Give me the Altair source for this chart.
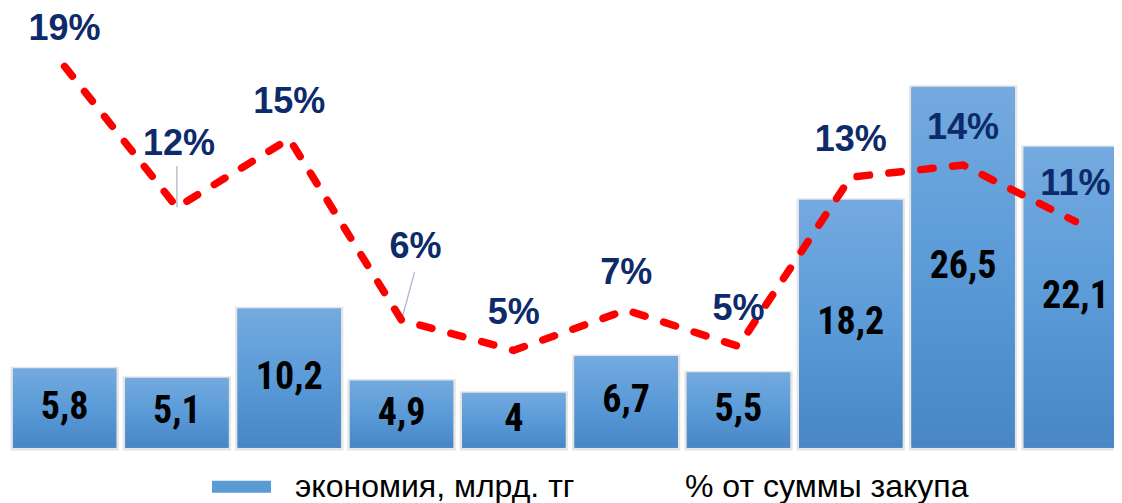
import altair as alt
import pandas as pd

categories = [str(i) for i in range(1, 11)]
savings = [5.8, 5.1, 10.2, 4.9, 4.0, 6.7, 5.5, 18.2, 26.5, 22.1]
percent = [18.9, 11.9, 15.3, 6.3, 4.8, 6.8, 5.0, 13.4, 14.0, 11.2]
series_labels = ["экономия, млрд. тг", "% от суммы закупа"]

df = pd.DataFrame({"cat": categories, "savings": savings, "percent": percent})
df["mid"] = df["savings"] / 2
df["savings_label"] = df["savings"].map(lambda v: f"{v:g}".replace(".", ","))
df["pct_label"] = df["percent"].map(lambda v: f"{int(round(v))}%")
df["series_bar"] = series_labels[0]

x_enc = alt.X("cat:N", sort=categories, axis=None,
              scale=alt.Scale(paddingInner=0.08, paddingOuter=0.044, range=[0, 1124]))
bar_scale = alt.Scale(domain=[0, 32.3], nice=False, zero=True, range=[439, 0])
pct_scale = alt.Scale(domain=[0, 21.8], nice=False, zero=True, range=[439, 0])

gradient = alt.LinearGradient(
    gradient="linear",
    stops=[alt.GradientStop(color="#74AADF", offset=0),
           alt.GradientStop(color="#5B9BD8", offset=0.5),
           alt.GradientStop(color="#4886C6", offset=1)],
    x1=0, x2=0, y1=0, y2=1,
)

legend = alt.Legend(
    title=None, orient="none", direction="horizontal",
    legendX=204, legendY=449, padding=0,
    symbolType="M-1,-0.2H1V0.2H-1Z", symbolSize=3481, symbolStrokeWidth=0,
    labelFont="Liberation Sans", labelFontSize=32, labelColor="#000000",
    labelOffset=24, columnPadding=27, labelLimit=500,
)

base = alt.Chart(df)

bars_legend = base.mark_bar(stroke="#000000", strokeOpacity=0.10, strokeWidth=5, yOffset=1).encode(
    x=x_enc,
    y=alt.Y("savings:Q", scale=bar_scale, axis=None),
    color=alt.Color("series_bar:N",
                    scale=alt.Scale(domain=series_labels, range=["#5B9BD5", "transparent"]),
                    legend=legend),
)

bars = base.mark_bar(fill=gradient).encode(
    x=x_enc,
    y=alt.Y("savings:Q", scale=bar_scale, axis=None),
)

bar_text = base.mark_text(
    font="'Liberation Sans Narrow', 'Arial Narrow', 'Noto Sans Condensed', 'Roboto Condensed', 'DejaVu Sans Condensed', sans-serif",
    fontWeight="bold", fontSize=38,
    color="#000000", baseline="middle", align="center",
).encode(
    x=x_enc,
    y=alt.Y("mid:Q", scale=bar_scale, axis=None),
    text="savings_label:N",
)

line = base.mark_line(
    stroke="#FF0000", strokeWidth=7.5, strokeDash=[12.5, 19.5], strokeCap="round",
).encode(
    x=x_enc,
    y=alt.Y("percent:Q", scale=pct_scale, axis=None),
)

label_style = dict(font="Liberation Sans", fontWeight="bold", fontSize=36,
                   color="#0D2A6A", baseline="middle", align="center")
y_pct = alt.Y("percent:Q", scale=pct_scale, axis=None)

line_text = base.mark_text(dy=-37, **label_style).encode(
    x=x_enc, y=y_pct, text="pct_label:N",
).transform_filter("datum.cat != '2' && datum.cat != '4'")

text_2 = base.mark_text(dy=-63, dx=2, **label_style).encode(
    x=x_enc, y=y_pct, text="pct_label:N",
).transform_filter("datum.cat == '2'")

text_4 = base.mark_text(dy=-73, dx=14, **label_style).encode(
    x=x_enc, y=y_pct, text="pct_label:N",
).transform_filter("datum.cat == '4'")

leader_2 = base.mark_rule(color="#A9B6C8", strokeWidth=1.3, y2Offset=-41).encode(
    x=x_enc, y=y_pct, y2="percent:Q",
).transform_filter("datum.cat == '2'")

leader_4 = base.mark_rule(color="#A9B6C8", strokeWidth=1.3, x2Offset=13, y2Offset=-48).encode(
    x=x_enc, x2="cat:N", y=y_pct, y2="percent:Q",
).transform_filter("datum.cat == '4'")

left = alt.layer(bars_legend, bars, bar_text)
right = alt.layer(leader_2, leader_4, line, line_text, text_2, text_4)

chart = alt.layer(left, right).resolve_scale(y="independent").properties(
    width=1106, height=495, padding=0,
    autosize=alt.AutoSizeParams(type="none"),
).configure_view(stroke=None)

chart.save("out.html", embed_options={"renderer": "svg", "actions": False})
